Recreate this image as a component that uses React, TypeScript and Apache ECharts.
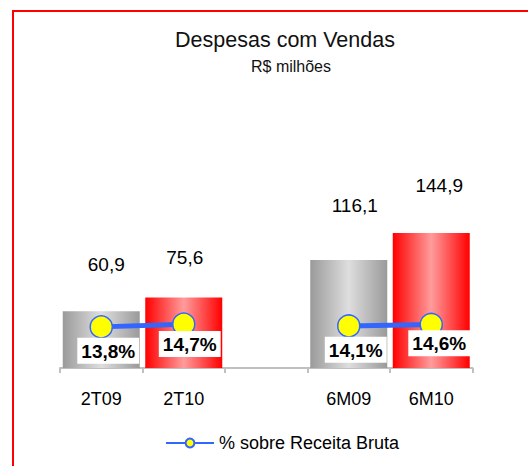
import React, { useEffect, useRef } from "react";
import * as echarts from "echarts";

const categories = ["2T09", "2T10", "", "6M09", "6M10"];
const despesas = [60.9, 75.6, null, 116.1, 144.9];
const percentSobreReceita = [13.8, 14.7, null, 14.1, 14.6];
const barKinds = ["gray", "red", "none", "gray", "red"];
const titleText = "Despesas com Vendas";
const subtitleText = "R$ milhões";
const legendText = "% sobre Receita Bruta";

// layout tweaks for labels (pixel offsets, not data)
const valueLabelOffsets = [
  [5, -37],
  [1, -31],
  [0, 0],
  [6, -45],
  [8, -38],
];
const pctLabelOffsets = [
  [7, -1],
  [6, -5],
  [0, 0],
  [7, -1],
  [8, -6],
];

const FONT = "'Liberation Sans', Arial, sans-serif";

const fmt = (v: number) => v.toFixed(1).replace(".", ",");

const grayGrad = () =>
  new echarts.graphic.LinearGradient(0, 0, 1, 0, [
    { offset: 0, color: "#9a9a9a" },
    { offset: 0.5, color: "#dedede" },
    { offset: 1, color: "#9a9a9a" },
  ]);
const redGrad = () =>
  new echarts.graphic.LinearGradient(0, 0, 1, 0, [
    { offset: 0, color: "#ff0000" },
    { offset: 0.5, color: "#ff9c9c" },
    { offset: 1, color: "#ff0000" },
  ]);

export default function App() {
  const ref = useRef<HTMLDivElement>(null);
  useEffect(() => {
    if (!ref.current) return;
    const chart = echarts.init(ref.current, undefined, { renderer: "svg" });

    const barData = despesas.map((v, i) =>
      v == null
        ? null
        : {
            value: v,
            itemStyle: { color: barKinds[i] === "red" ? redGrad() : grayGrad() },
            label: { offset: valueLabelOffsets[i] },
          }
    );
    const lineData = percentSobreReceita.map((v, i) =>
      v == null ? null : { value: v, label: { offset: pctLabelOffsets[i] } }
    );

    chart.setOption({
      animation: false,
      backgroundColor: "#ffffff",
      textStyle: { fontFamily: FONT },
      graphic: [
        {
          type: "rect",
          shape: { x: 13, y: 11, width: 700, height: 700 },
          style: { fill: "none", stroke: "#ff0000", lineWidth: 2 },
          silent: true,
        },
        {
          type: "text",
          x: 285,
          y: 40,
          style: {
            text: titleText,
            fontSize: 21.5,
            fontFamily: FONT,
            fill: "#111111",
            align: "center",
            verticalAlign: "middle",
          },
        },
        {
          type: "text",
          x: 291,
          y: 66,
          style: {
            text: subtitleText,
            fontSize: 16,
            fontFamily: FONT,
            fill: "#111111",
            align: "center",
            verticalAlign: "middle",
          },
        },
      ],
      legend: {
        data: [legendText],
        left: 160,
        top: 429,
        itemWidth: 48,
        itemHeight: 11,
        itemGap: 5,
        textStyle: { fontSize: 18, color: "#000", fontFamily: FONT },
      },
      grid: { left: 60, right: 55.5, top: 219, bottom: 98, containLabel: false },
      xAxis: {
        type: "category",
        data: categories,
        axisLine: { lineStyle: { color: "#c0c0c0", width: 2 } },
        axisTick: { show: true, length: 5, lineStyle: { color: "#c0c0c0", width: 2 } },
        axisLabel: { fontSize: 18, color: "#000", margin: 22, fontFamily: FONT },
      },
      yAxis: [
        { type: "value", min: 0, max: 160, show: false },
        { type: "value", min: 0, max: 50, show: false },
      ],
      series: [
        {
          type: "bar",
          name: "Despesas",
          data: barData,
          barWidth: 77,
          yAxisIndex: 0,
          label: {
            show: true,
            position: "top",
            distance: 0,
            fontSize: 19,
            color: "#000",
            fontFamily: FONT,
            formatter: (p: any) => fmt(p.value),
          },
        },
        {
          type: "line",
          name: legendText,
          data: lineData,
          yAxisIndex: 1,
          connectNulls: false,
          symbol: "circle",
          symbolSize: 22,
          lineStyle: { color: "#3366ff", width: 5 },
          itemStyle: { color: "#ffff00", borderColor: "#3366ff", borderWidth: 1.5 },
          label: {
            show: true,
            position: "bottom",
            distance: 0,
            fontSize: 19,
            fontWeight: "bold",
            color: "#000",
            fontFamily: FONT,
            backgroundColor: "#ffffff",
            padding: [4, 4, 3, 4],
            formatter: (p: any) => fmt(p.value) + "%",
          },
          z: 5,
        },
      ],
    });
    return () => chart.dispose();
  }, []);
  return (
    <div
      ref={ref}
      style={{ position: "fixed", left: 0, top: 0, width: 528, height: 466 }}
    />
  );
}
